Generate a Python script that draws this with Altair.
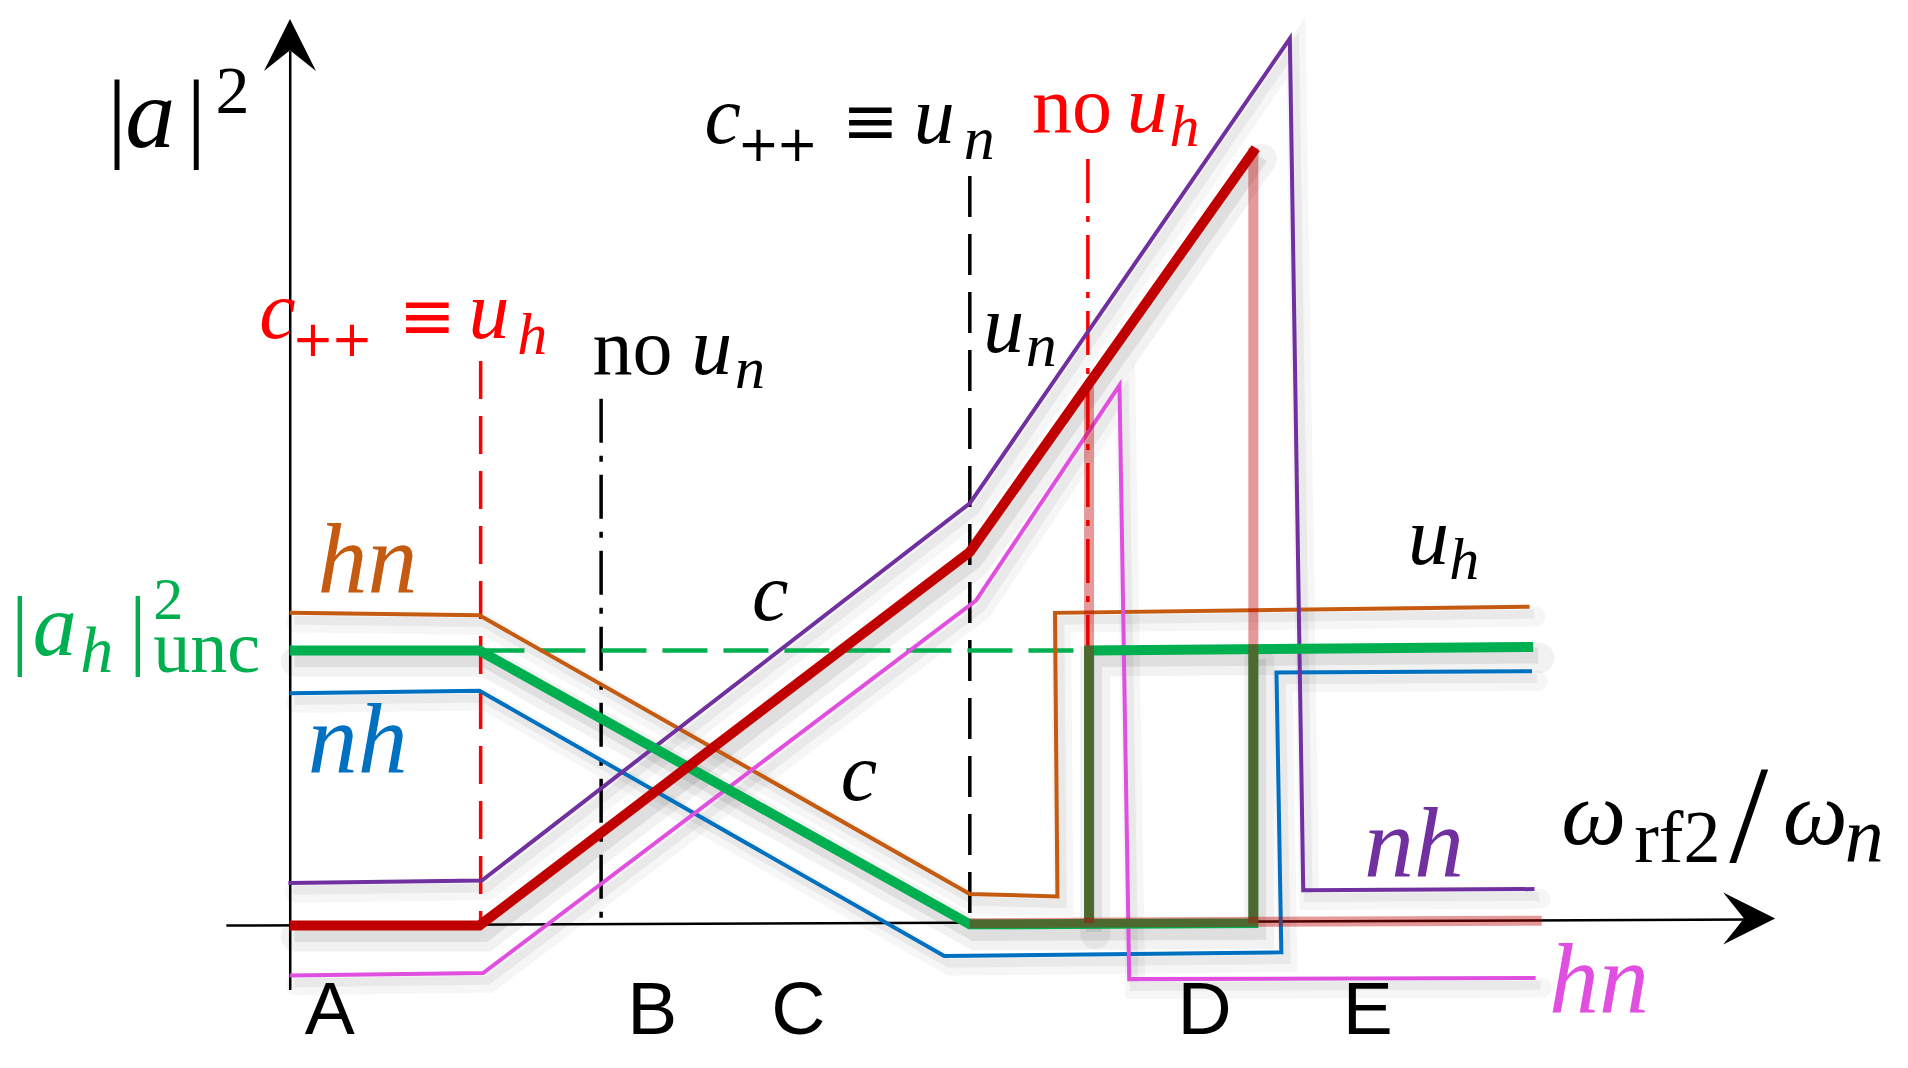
import altair as alt
import pandas as pd

# ---- schematic coordinates (x to the right, y downward), frame 1568 x 878 ----
# polylines of each state branch
orange_x = [238, 394, 797, 869, 867, 1257]
orange_y = [502, 504, 733, 735, 502, 497]
blue_x = [238, 394, 776, 1053, 1049, 1259]
blue_y = [568, 566, 784, 781, 551, 550]
purple_x = [237, 396, 797, 1060, 1071, 1261]
purple_y = [724, 722, 412, 30, 730, 729]
magenta_x = [238, 397, 802, 920, 928, 1262]
magenta_y = [800, 798, 492, 315, 803, 802]
green_x = [238, 394, 797, 1030, 1030]
green_y = [533, 533, 758, 757, 533]
green2_x = [895, 895, 1260]
green2_y = [757, 533, 530]
red_x = [238, 394, 797, 1032]
red_y = [759, 759, 452, 120]
pale1_x = [895, 895]
pale1_y = [316, 757]
pale2_x = [1030, 1030]
pale2_y = [120, 757]
pale3_x = [797, 1267]
pale3_y = [757, 755]

# reference (vertical) lines and the dashed |a_h|^2_unc level
vref_red_x, vref_red_y = [395, 395], [295, 757]
vref_blk1_x, vref_blk1_y = [494, 494], [326, 756]
vref_blk2_x, vref_blk2_y = [797, 797], [143, 757]
vref_red2_x, vref_red2_y = [894, 894], [129, 536]
unc_x, unc_y = [394, 895], [533, 533]

# axes
xaxis_x, xaxis_y = [186, 1440], [759, 754]
yaxis_x, yaxis_y = [238.5, 238.5], [812, 40]
arrow_up = (238.3, 35.3)
arrow_right = (1437.5, 753.2)

# text pieces: (text, x, baseline y, font size, colour, kind)
BLK, RED = "#000000", "#ff0000"
ORA, BLU, PUR, MAG, GRN = "#c55a11", "#0070c0", "#7030a0", "#e04fdf", "#00b050"
texts = [
    ("|", 88, 121, 100, BLK, "rm"), ("a", 103, 119, 100, BLK, "it"),
    ("|", 153, 121, 100, BLK, "rm"), ("2", 177, 91, 68, BLK, "rm"),
    ("c", 213, 276, 82, RED, "it"), ("+", 240, 291, 50, RED, "sy"),
    ("+", 272, 291, 50, RED, "sy"),
    ("≡", 328, 277, 68, RED, "sy"), ("u", 385, 276, 82, RED, "it"),
    ("h", 425, 289, 60, RED, "it"),
    ("no", 487, 306, 80, BLK, "rm"), ("u", 568, 306, 82, BLK, "it"),
    ("n", 604, 317, 60, BLK, "it"),
    ("c", 579, 116, 82, BLK, "it"), ("+", 606, 131, 50, BLK, "sy"),
    ("+", 638, 131, 50, BLK, "sy"),
    ("≡", 692, 117, 68, BLK, "sy"), ("u", 751, 116, 82, BLK, "it"),
    ("n", 792, 129, 62, BLK, "it"),
    ("no", 848, 107, 80, RED, "rm"), ("u", 926, 107, 82, RED, "it"),
    ("h", 961, 118, 60, RED, "it"),
    ("u", 808, 288, 82, BLK, "it"), ("n", 843, 299, 62, BLK, "it"),
    ("hn", 261, 485, 100, ORA, "it"),
    ("nh", 253, 633, 100, BLU, "it"),
    ("|", 9, 539, 88, GRN, "rm"), ("a", 27, 537, 88, GRN, "it"),
    ("h", 66, 551, 66, GRN, "it"), ("|", 106, 539, 88, GRN, "rm"),
    ("2", 126, 507, 60, GRN, "rm"), ("unc", 126, 551, 74, GRN, "rm"),
    ("c", 618, 508, 82, BLK, "it"), ("c", 691, 656, 82, BLK, "it"),
    ("u", 1157, 462, 82, BLK, "it"), ("h", 1191, 474, 60, BLK, "it"),
    ("nh", 1121, 718, 100, PUR, "it"),
    ("ω", 1283, 692, 92, BLK, "it"), ("rf2", 1343, 707, 74, BLK, "rm"),
    ("/", 1421, 707, 140, BLK, "rm"), ("ω", 1465, 692, 92, BLK, "it"),
    ("n", 1516, 707, 78, BLK, "it"),
    ("hn", 1273, 830, 100, MAG, "it"),
]
region_labels = ["A", "B", "C", "D", "E"]
region_x = [271, 536, 656, 990, 1124]
region_y = 848

# ---- frame / scales ----
K = 1908 / 1568
W, H = 1892, 1052
X0 = 8 / K
xs = alt.Scale(domain=[X0, X0 + W / K], nice=False, zero=False)
ys = alt.Scale(domain=[X0, X0 + H / K], nice=False, zero=False, reverse=True)


def path_df(xv, yv, dx=0.0, dy=0.0):
    return pd.DataFrame({"x": [v + dx for v in xv], "y": [v + dy for v in yv],
                         "i": list(range(len(xv)))})


def line(xv, yv, color, width, dash=None, opacity=1.0, dx=0.0, dy=0.0, cap="butt"):
    kw = dict(color=color, strokeWidth=width, opacity=opacity, strokeCap=cap,
              strokeJoin="miter")
    if dash:
        kw["strokeDash"] = dash
    return alt.Chart(path_df(xv, yv, dx, dy)).mark_line(**kw).encode(
        x=alt.X("x:Q", scale=xs, axis=None),
        y=alt.Y("y:Q", scale=ys, axis=None),
        order="i:Q",
    )


solid_thin = [(orange_x, orange_y, ORA), (blue_x, blue_y, BLU),
              (purple_x, purple_y, PUR), (magenta_x, magenta_y, MAG)]
solid_thick = [(green_x, green_y, GRN), (green2_x, green2_y, GRN),
               (red_x, red_y, "#c00000")]

layers = []
# soft drop shadows
for xv, yv, _c in solid_thin:
    layers.append(line(xv, yv, "#000000", 20, opacity=0.035, dx=5, dy=8, cap="round"))
    layers.append(line(xv, yv, "#000000", 9, opacity=0.05, dx=4, dy=6))
for xv, yv, _c in solid_thick:
    layers.append(line(xv, yv, "#000000", 30, opacity=0.05, dx=5, dy=9, cap="round"))
    layers.append(line(xv, yv, "#000000", 16, opacity=0.08, dx=4, dy=7))

# axes
layers.append(line(xaxis_x, xaxis_y, "#000000", 2.5))
layers.append(line(yaxis_x, yaxis_y, "#000000", 2.5))

# reference lines
layers.append(line(vref_red_x, vref_red_y, RED, 3.5, dash=[38, 17]))
layers.append(line(vref_blk1_x, vref_blk1_y, BLK, 3.5, dash=[44, 13, 6, 13]))
layers.append(line(vref_blk2_x, vref_blk2_y, BLK, 3.5, dash=[41, 17]))
layers.append(line(vref_red2_x, vref_red2_y, RED, 3.5, dash=[44, 13, 6, 13]))
layers.append(line(unc_x, unc_y, GRN, 4.5, dash=[45, 16]))

for xv, yv, c in solid_thin:
    layers.append(line(xv, yv, c, 4))
for xv, yv, c in solid_thick:
    layers.append(line(xv, yv, c, 10))

# faded red branch (transparent overlay)
for xv, yv in [(pale1_x, pale1_y), (pale2_x, pale2_y), (pale3_x, pale3_y)]:
    layers.append(line(xv, yv, "#c00000", 10, opacity=0.4))

# arrowheads
arrow_shape = "M0,-1L1,1L0,0.2L-1,1Z"
for (ax, ay), ang in [(arrow_up, 0), (arrow_right, 90)]:
    layers.append(
        alt.Chart(pd.DataFrame({"x": [ax], "y": [ay]})).mark_point(
            shape=arrow_shape, size=2704, filled=True, color="#000000",
            opacity=1, angle=ang, strokeWidth=0,
        ).encode(x=alt.X("x:Q", scale=xs, axis=None), y=alt.Y("y:Q", scale=ys, axis=None))
    )

# texts
tdf = pd.DataFrame(texts, columns=["t", "x", "y", "s", "c", "k"])
fonts = {"rm": ("Liberation Serif", "normal"), "it": ("Liberation Serif", "italic"),
         "sy": ("DejaVu Sans", "normal")}
for kind, (fam, style) in fonts.items():
    sub = tdf[tdf.k == kind]
    layers.append(
        alt.Chart(sub).mark_text(align="left", baseline="alphabetic", font=fam,
                                 fontStyle=style).encode(
            x=alt.X("x:Q", scale=xs, axis=None),
            y=alt.Y("y:Q", scale=ys, axis=None),
            text="t:N",
            size=alt.Size("s:Q", scale=None, legend=None),
            color=alt.Color("c:N", scale=None, legend=None),
        )
    )

rdf = pd.DataFrame({"t": region_labels, "x": region_x, "y": [region_y] * len(region_x)})
layers.append(
    alt.Chart(rdf).mark_text(align="center", baseline="alphabetic",
                             font="Liberation Sans", fontSize=75, color="#000000").encode(
        x=alt.X("x:Q", scale=xs, axis=None),
        y=alt.Y("y:Q", scale=ys, axis=None),
        text="t:N",
    )
)

chart = alt.layer(*layers).properties(
    width=W, height=H, padding=0, background="#ffffff"
).configure_view(stroke=None)

chart.save("out.html", embed_options={"renderer": "svg", "actions": False})
